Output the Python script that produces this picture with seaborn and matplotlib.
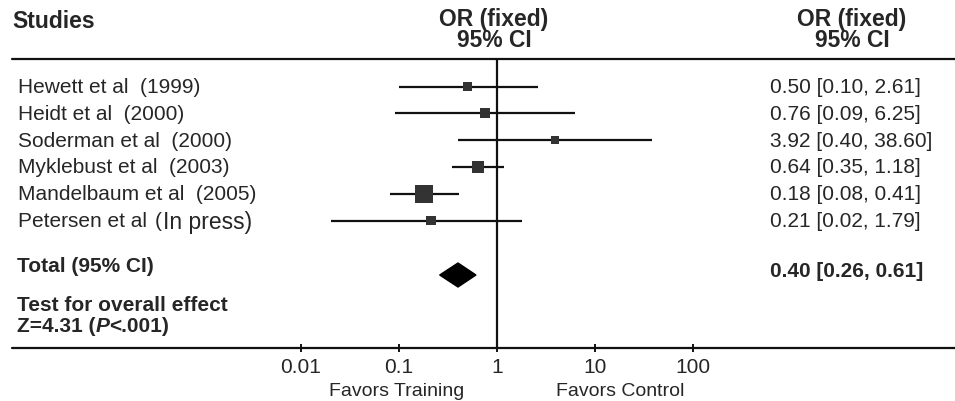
import numpy as np
import pandas as pd
import matplotlib
matplotlib.use("Agg")
import matplotlib.pyplot as plt
import matplotlib.transforms as mtransforms
import seaborn as sns

# data
studies = ["Hewett et al  (1999)", "Heidt et al  (2000)", "Soderman et al  (2000)",
           "Myklebust et al  (2003)", "Mandelbaum et al  (2005)", "Petersen et al"]
or_vals = [0.50, 0.76, 3.92, 0.64, 0.18, 0.21]
ci_low = [0.10, 0.09, 0.40, 0.35, 0.08, 0.02]
ci_high = [2.61, 6.25, 38.60, 1.18, 0.41, 1.79]
weights = [12.0, 12.0, 7.7, 17.3, 38.9, 12.0]
total_or = 0.40
total_low = 0.26
total_high = 0.61
tick_vals = [0.01, 0.1, 1, 10, 100]
tick_labels = ["0.01", "0.1", "1", "10", "100"]

sns.set_style("white")
plt.rcParams["font.family"] = ["Liberation Sans", "DejaVu Sans"]
FS = 15
FS_HEAD = 16.5

W, H = 955, 402
X0, DEC = 497, 98  # pixel of OR=1, pixels per decade

fig = plt.figure(figsize=(W / 100, H / 100), dpi=100)
ax = fig.add_axes([0, 0, 1, 1])
ax.set_xscale("log")
ax.set_xlim(10 ** (-X0 / DEC), 10 ** ((W - X0) / DEC))
ax.set_ylim(H, 0)
ax.axis("off")
trans = mtransforms.blended_transform_factory(ax.transAxes, ax.transData)


def fx(px):
    return px / W


row_y = 87.5 + 26.8 * np.arange(len(studies))
y_top, y_axis = 60, 349
y_total = 276

df = pd.DataFrame({"study": studies, "or": or_vals, "lo": ci_low, "hi": ci_high,
                   "w": weights, "y": row_y})

# header
ax.text(fx(12), 21, "Studies", fontsize=FS_HEAD, fontweight="bold", va="center", transform=trans)
ax.text(fx(494), 30, "OR (fixed)\n95% CI", fontsize=FS_HEAD, fontweight="bold", ha="center",
        va="center", linespacing=0.85, transform=trans)
ax.text(fx(852), 30, "OR (fixed)\n95% CI", fontsize=FS_HEAD, fontweight="bold", ha="center",
        va="center", linespacing=0.85, transform=trans)
ax.axhline(y_top, xmin=fx(12), xmax=1, color="#111111", lw=1.6)

# studies
ax.hlines(df["y"], df["lo"], df["hi"], color="#111111", lw=1.6, zorder=2)
sns.scatterplot(data=df, x="or", y="y", size="w", sizes=(33, 168), marker="s",
                color="#333333", edgecolor="none", legend=False, ax=ax, zorder=3)
for _, r in df.iterrows():
    ax.text(fx(18), r["y"], r["study"], fontsize=FS, va="center", transform=trans)
    ax.text(fx(770), r["y"], f"{r['or']:.2f} [{r['lo']:.2f}, {r['hi']:.2f}]",
            fontsize=FS, va="center", transform=trans)
ax.text(fx(155), row_y[-1], "(", fontsize=FS, va="center", transform=trans)
ax.text(fx(163), row_y[-1] + 1, "In press)", fontsize=FS + 1.5, va="center", transform=trans)

# total
ax.fill([total_low, total_or, total_high, total_or],
        [y_total, y_total - 12, y_total, y_total + 12], color="black", zorder=3)
ax.text(fx(17), 267, "Total (95% CI)", fontsize=FS, fontweight="bold", va="center",
        transform=trans)
ax.text(fx(770), 272, f"{total_or:.2f} [{total_low:.2f}, {total_high:.2f}]",
        fontsize=FS, fontweight="bold", va="center", transform=trans)
ax.text(fx(17), 306, "Test for overall effect", fontsize=FS, fontweight="bold",
        va="center", transform=trans)
t1 = ax.text(fx(17), 332, "Z=4.31 (", fontsize=FS, fontweight="bold", va="baseline",
             transform=trans)
t2 = ax.annotate("P", xycoords=t1, xy=(1, 0), va="bottom", fontsize=FS,
                 fontweight="bold", fontstyle="italic")
ax.annotate("<.001)", xycoords=t2, xy=(1, 0), va="bottom", fontsize=FS, fontweight="bold")

# axis
ax.vlines(1, y_top, y_axis, color="#111111", lw=1.6)
ax.axhline(y_axis, xmin=fx(12), xmax=1, color="#111111", lw=1.6)
ax.vlines(tick_vals, y_axis - 4, y_axis + 4, color="#111111", lw=1.4)
for v, lab in zip(tick_vals, tick_labels):
    ax.text(v, 368, lab, fontsize=FS, ha="center", va="center")
ax.text(fx(397), 392, "Favors Training", fontsize=14, ha="center", va="center", transform=trans)
ax.text(fx(620), 392, "Favors Control", fontsize=14, ha="center", va="center", transform=trans)

fig.savefig("out.png", dpi=100)
